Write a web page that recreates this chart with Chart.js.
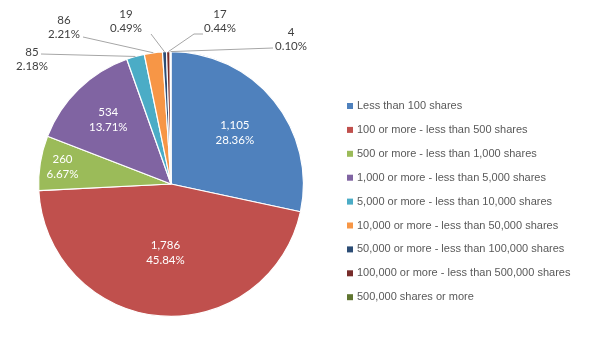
<!DOCTYPE html>
<html>
<head>
<meta charset="utf-8">
<script src="https://cdn.jsdelivr.net/npm/chart.js@4.4.1/dist/chart.umd.min.js"></script>
<style>
  html, body { margin: 0; padding: 0; background: #fff; }
  #wrap { width: 600px; height: 360px; }
</style>
</head>
<body>
<div id="wrap"><canvas id="chart" width="600" height="360"></canvas></div>
<script>
const categories = [
    'Less than 100 shares',
    '100 or more - less than 500 shares',
    '500 or more - less than 1,000 shares',
    '1,000 or more - less than 5,000 shares',
    '5,000 or more - less than 10,000 shares',
    '10,000 or more - less than 50,000 shares',
    '50,000 or more - less than 100,000 shares',
    '100,000 or more - less than 500,000 shares',
    '500,000 shares or more'
];
const holders = [1105, 1786, 260, 534, 85, 86, 19, 17, 4];
const percentLabels = ['28.36%', '45.84%', '6.67%', '13.71%', '2.18%', '2.21%', '0.49%', '0.44%', '0.10%'];
const colors = ['#4F81BD', '#C0504D', '#9BBB59', '#8064A2', '#4BACC6', '#F79646', '#2C4D75', '#772C2A', '#5F7530'];

// label placement: inside labels by radius fraction, outside ones offset from pie centre
const insideFrac = { 0: 0.62, 1: 0.52, 2: 0.83, 3: 0.68 };
const outside = {
    4: { text: [-139, -132], line: [[-130, -130]] },
    5: { text: [-107, -164], line: [[-88, -147]] },
    6: { text: [-45, -170], line: [[-20, -150]] },
    7: { text: [49, -170], line: [[32, -150], [23, -150]] },
    8: { text: [120, -152], line: [[102, -136]] }
};

const labelPlugin = {
    id: 'pieLabels',
    afterDatasetsDraw(chart) {
        const ctx = chart.ctx;
        const arcs = chart.getDatasetMeta(0).data;
        const vals = chart.data.datasets[0].data;
        ctx.save();
        ctx.textAlign = 'center';
        ctx.textBaseline = 'middle';
        ctx.font = '11.5px Lato, "Open Sans", sans-serif';
        arcs.forEach((arc, i) => {
            const p = arc.getProps(['x', 'y', 'startAngle', 'endAngle', 'outerRadius']);
            const mid = (p.startAngle + p.endAngle) / 2;
            const txt1 = vals[i].toLocaleString('en-US');
            const txt2 = percentLabels[i];
            if (insideFrac[i] !== undefined) {
                const r = p.outerRadius * insideFrac[i];
                const x = p.x + Math.cos(mid) * r;
                const y = p.y + Math.sin(mid) * r;
                ctx.fillStyle = '#ffffff';
                ctx.fillText(txt1, x, y - 7.5);
                ctx.fillText(txt2, x, y + 7.5);
            } else if (outside[i]) {
                const o = outside[i];
                const ax = p.x + Math.cos(mid) * p.outerRadius;
                const ay = p.y + Math.sin(mid) * p.outerRadius;
                ctx.strokeStyle = '#A6A6A6';
                ctx.lineWidth = 1;
                ctx.beginPath();
                o.line.forEach((pt, k) => {
                    if (k === 0) ctx.moveTo(p.x + pt[0], p.y + pt[1]);
                    else ctx.lineTo(p.x + pt[0], p.y + pt[1]);
                });
                ctx.lineTo(ax, ay);
                ctx.stroke();
                ctx.fillStyle = '#404040';
                ctx.fillText(txt1, p.x + o.text[0], p.y + o.text[1]);
                ctx.fillText(txt2, p.x + o.text[0], p.y + o.text[1] + 14);
            }
        });
        ctx.restore();
    }
};

const legendPlugin = {
    id: 'sideLegend',
    afterDraw(chart) {
        const ctx = chart.ctx;
        const labels = chart.data.labels;
        const bg = chart.data.datasets[0].backgroundColor;
        ctx.save();
        ctx.font = '11px "Liberation Sans", Arial, sans-serif';
        ctx.textBaseline = 'middle';
        ctx.textAlign = 'left';
        labels.forEach((lab, i) => {
            const y = 106 + i * 23.9;
            ctx.fillStyle = bg[i];
            ctx.fillRect(347, y - 3, 6, 6);
            ctx.fillStyle = '#595959';
            ctx.fillText(lab, 357, y);
        });
        ctx.restore();
    }
};

document.addEventListener('DOMContentLoaded', () => {
    const ctx = document.getElementById('chart').getContext('2d');
    const chart = new Chart(ctx, {
        type: 'pie',
        data: {
            labels: categories,
            datasets: [{
                data: holders,
                backgroundColor: colors,
                borderColor: '#ffffff',
                borderWidth: 1.2
            }]
        },
        options: {
            responsive: false,
            animation: false,
            layout: {
                padding: { top: 51, bottom: 43, left: 38, right: 296 }
            },
            plugins: {
                legend: { display: false },
                tooltip: { enabled: false }
            }
        },
        plugins: [labelPlugin, legendPlugin]
    });
});
</script>
</body>
</html>
